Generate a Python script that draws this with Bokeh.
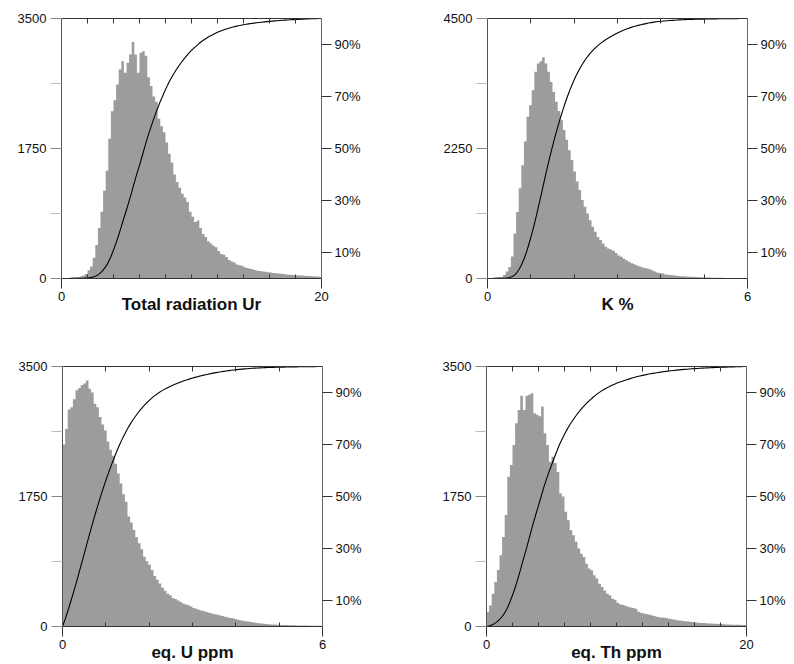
import numpy as np
from bokeh.plotting import figure
from bokeh.models import Range1d, LinearAxis, FixedTicker
from bokeh.layouts import row, column
from bokeh.embed import file_html
from bokeh.resources import INLINE

# ---------------- data ----------------
titles = ["Total radiation Ur", "K %", "eq. U ppm", "eq. Th ppm"]
x_max = [20, 6, 6, 20]
y_max = [3500, 4500, 3500, 3500]
y_tick_labels = [["0", "1750", "3500"], ["0", "2250", "4500"],
                 ["0", "1750", "3500"], ["0", "1750", "3500"]]
x_minor_20 = [2, 4, 6, 8, 10, 12, 14, 16, 18]
x_minor_6 = [1, 2, 3, 4, 5]
pct_ticks = [10, 30, 50, 70, 90]
pct_labels = ["10%", "30%", "50%", "70%", "90%"]

ur_counts = [
    5, 6, 8, 10, 12, 15, 20, 28, 40, 60,
    110, 160, 280, 450, 680, 900, 1180, 1450, 1880, 2250,
    2400, 2612, 2813, 2925, 2770, 2903, 3015, 3185, 3015, 2770,
    3040, 3060, 3000, 2710, 2590, 2450, 2380, 2150, 2050, 1970,
    1830, 1680, 1560, 1400, 1300, 1220, 1140, 1090, 1030, 900,
    830, 760, 780, 680, 600, 560, 500, 470, 440, 420,
    370, 330, 320, 290, 250, 230, 215, 190, 180, 170,
    150, 140, 130, 125, 115, 105, 100, 95, 90, 85,
    80, 75, 72, 68, 65, 60, 55, 52, 50, 48,
    45, 42, 40, 36, 34, 32, 30, 28, 26, 24]

k_counts = [
    5, 8, 12, 15, 20, 28, 60, 120, 200, 380,
    780, 1150, 1560, 1960, 2370, 2800, 3000, 3260, 3580, 3720,
    3760, 3830, 3720, 3580, 3400, 3230, 3060, 2900, 2740, 2570,
    2400, 2220, 2050, 1850, 1680, 1530, 1360, 1240, 1125, 1010,
    895, 810, 720, 665, 605, 550, 520, 500, 480, 440,
    400, 375, 340, 317, 290, 265, 245, 225, 213, 195,
    180, 173, 160, 140, 120, 100, 90, 85, 70, 65,
    60, 55, 50, 45, 40, 37, 34, 31, 29, 27,
    25, 23, 21, 19, 17, 16, 15, 14, 13, 12,
    11, 10, 10, 9, 9, 8, 8, 7, 7, 6]

u_counts = [
    2450, 2660, 2920, 2950, 3060, 3180, 3210, 3250, 3270, 3310,
    3200, 3150, 3000, 2950, 2820, 2720, 2640, 2490, 2380, 2300,
    2190, 2060, 1925, 1780, 1680, 1480, 1400, 1300, 1200, 1120,
    1040, 940, 880, 830, 760, 680, 630, 580, 520, 480,
    440, 420, 385, 370, 350, 330, 310, 295, 285, 270,
    250, 240, 225, 215, 205, 195, 185, 175, 165, 160,
    150, 140, 130, 125, 115, 110, 100, 92, 85, 78,
    72, 66, 60, 55, 50, 45, 42, 38, 35, 30,
    28, 26, 24, 22, 21, 20, 19, 18, 17, 16,
    15, 14, 13, 12, 12, 11, 10, 10, 9, 9]

th_counts = [
    194, 284, 441, 599, 760, 959, 1206, 1500, 2016, 2174,
    2444, 2736, 2916, 3105, 2916, 3105, 3120, 3141, 2871, 2850,
    2830, 2961, 2601, 2444, 2219, 2286, 2200, 2080, 1791, 1750,
    1544, 1430, 1296, 1230, 1140, 1049, 980, 935, 845, 780,
    756, 690, 645, 576, 531, 486, 441, 420, 374, 360,
    320, 300, 290, 280, 265, 255, 250, 240, 200, 185,
    175, 168, 160, 150, 140, 130, 125, 122, 118, 112,
    105, 98, 92, 85, 80, 75, 72, 68, 65, 60,
    55, 50, 48, 46, 44, 42, 40, 38, 36, 34,
    32, 30, 28, 26, 25, 24, 23, 22, 21, 20]

# ---------------- styling ----------------
FONT = "Liberation Sans"
BAR = "#9c9c9c"


def make_panel(counts, xmax, ymax, ylabels, xminor, title, bl, br, bt, bb):
    n = len(counts)
    edges = np.linspace(0, xmax, n + 1)
    p = figure(frame_width=260, frame_height=260,
               x_range=Range1d(0, xmax), y_range=Range1d(0, ymax),
               x_axis_type=None, y_axis_type=None,
               output_backend="svg", toolbar_location=None,
               min_border_left=bl, min_border_right=br,
               min_border_top=bt, min_border_bottom=bb)
    p.outline_line_color = None
    p.background_fill_color = "white"
    p.extra_y_ranges = {"pct": Range1d(0, 100)}

    # histogram drawn as one stepped outline polygon (no seams between bins)
    xs = [edges[0]]
    ys = [0]
    for i, c in enumerate(counts):
        xs += [edges[i], edges[i + 1]]
        ys += [c, c]
    xs.append(edges[-1])
    ys.append(0)
    p.patch(xs, ys, fill_color=BAR, line_color=None)

    cdf = np.concatenate([[0.0], np.cumsum(counts)]) / float(sum(counts)) * 100
    p.line(edges, cdf, y_range_name="pct", line_color="black", line_width=1.1)

    # bottom axis
    yt = [0, ymax // 2, ymax]
    bottom = LinearAxis(ticker=FixedTicker(ticks=[0, xmax], minor_ticks=xminor),
                        major_label_overrides={0: "0", xmax: str(xmax)},
                        axis_label=title)
    bottom.major_tick_out = 10
    bottom.major_tick_in = 0
    bottom.minor_tick_in = 4
    bottom.minor_tick_out = 0
    bottom.axis_line_color = "#333333"
    bottom.major_tick_line_color = "#333333"
    bottom.minor_tick_line_color = "#333333"
    bottom.major_label_standoff = 3
    bottom.major_label_text_font = FONT
    bottom.major_label_text_font_size = "13px"
    bottom.major_label_text_color = "#111111"
    bottom.axis_label_text_font = FONT
    bottom.axis_label_text_font_size = "17px"
    bottom.axis_label_text_font_style = "bold"
    bottom.axis_label_text_color = "#111111"
    bottom.axis_label_standoff = -9
    p.add_layout(bottom, "below")

    # top axis (only inner ticks)
    top = LinearAxis(ticker=FixedTicker(ticks=[], minor_ticks=xminor))
    top.minor_tick_in = 5
    top.minor_tick_out = 0
    top.major_tick_in = 0
    top.major_tick_out = 0
    top.axis_line_color = "#333333"
    top.minor_tick_line_color = "#333333"
    p.add_layout(top, "above")

    # left axis: counts
    left = LinearAxis(ticker=FixedTicker(ticks=yt, minor_ticks=[ymax // 4, 3 * ymax // 4]),
                      major_label_overrides=dict(zip(yt, ylabels)))
    left.major_tick_out = 11
    left.major_tick_in = 0
    left.minor_tick_out = 11
    left.minor_tick_in = 0
    left.axis_line_color = "#555555"
    left.major_tick_line_color = "#888888"
    left.minor_tick_line_color = "#bbbbbb"
    left.major_label_standoff = 4
    left.major_label_text_font = FONT
    left.major_label_text_font_size = "13px"
    left.major_label_text_color = "#111111"
    p.add_layout(left, "left")

    # right axis: cumulative percent
    right = LinearAxis(y_range_name="pct", ticker=FixedTicker(ticks=pct_ticks),
                       major_label_overrides=dict(zip(pct_ticks, pct_labels)))
    right.major_tick_out = 10
    right.major_tick_in = 0
    right.minor_tick_out = 0
    right.minor_tick_in = 0
    right.axis_line_color = "#666666"
    right.major_tick_line_color = "#333333"
    right.major_label_standoff = 3
    right.major_label_text_font = FONT
    right.major_label_text_font_size = "13px"
    right.major_label_text_color = "#111111"
    p.add_layout(right, "right")
    return p


f1 = make_panel(ur_counts, x_max[0], y_max[0], y_tick_labels[0], x_minor_20, titles[0], 61, 87, 17, 71)
f2 = make_panel(k_counts, x_max[1], y_max[1], y_tick_labels[1], x_minor_6, titles[1], 79, 47, 18, 70)
f3 = make_panel(u_counts, x_max[2], y_max[2], y_tick_labels[2], x_minor_6, titles[2], 62, 86, 18, 38)
f4 = make_panel(th_counts, x_max[3], y_max[3], y_tick_labels[3], x_minor_20, titles[3], 78, 48, 14, 42)

layout = column(row(f1, f2), row(f3, f4))
open("out.html", "w").write(file_html(layout, INLINE))
